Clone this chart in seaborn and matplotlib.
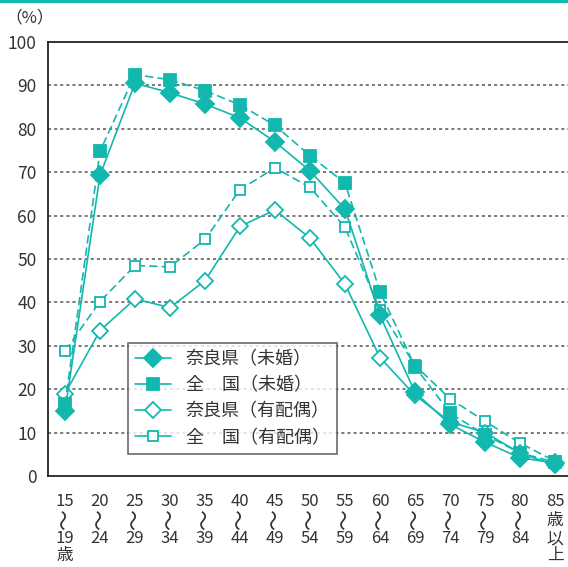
import matplotlib
matplotlib.use("Agg")
import matplotlib.pyplot as plt
from matplotlib.lines import Line2D
import matplotlib.transforms as mtransforms
import seaborn as sns
import pandas as pd

# age groups (x categories); middle line holds the wave mark drawn separately
age_top = ["15", "20", "25", "30", "35", "40", "45", "50", "55", "60", "65", "70", "75", "80", "85"]
age_bottom = ["19\n歳", "24", "29", "34", "39", "44", "49", "54", "59", "64", "69", "74", "79", "84", "以\n上"]
age_mid = ["〜"] * 14 + ["歳"]

# employment rate (%)
nara_unmarried = [15.0, 69.3, 90.5, 88.3, 85.7, 82.5, 77.0, 70.3, 61.5, 37.0, 19.3, 11.9, 7.8, 4.2, 3.0]
japan_unmarried = [16.5, 74.8, 92.5, 91.3, 88.8, 85.5, 80.8, 73.8, 67.5, 42.5, 25.2, 14.5, 9.5, 5.3, 3.2]
nara_married = [19.0, 33.5, 40.8, 38.8, 45.0, 57.5, 61.3, 54.8, 44.2, 27.3, 18.6, 12.5, 10.0, 5.3, 2.5]
japan_married = [28.8, 40.2, 48.5, 48.2, 54.5, 66.0, 71.0, 66.5, 57.3, 38.3, 25.5, 17.8, 12.6, 7.6, 3.4]

series_names = ["奈良県（未婚）", "全　国（未婚）", "奈良県（有配偶）", "全　国（有配偶）"]

teal = "#12B8AE"
text_col = "#333333"

sns.set_theme(style="white")
plt.rcParams['font.family'] = ['Noto Sans CJK JP', 'DejaVu Sans']

df = pd.DataFrame({
    "pos": range(len(age_top)),
    series_names[0]: nara_unmarried,
    series_names[1]: japan_unmarried,
    series_names[2]: nara_married,
    series_names[3]: japan_married,
})

fig = plt.figure(figsize=(5.68, 5.67), dpi=100)
ax = fig.add_axes([47.5 / 568, 91 / 567, 525 / 568, 434 / 567])

styles = [
    dict(marker="D", linestyle="-", markerfacecolor=teal, markersize=9),
    dict(marker="s", linestyle=(0, (5, 2.5)), markerfacecolor=teal, markersize=8),
    dict(marker="D", linestyle="-", markerfacecolor="white", markersize=8.5),
    dict(marker="s", linestyle=(0, (5, 2.5)), markerfacecolor="white", markersize=7.5),
]

# draw married first so unmarried sits on top
for i in [3, 2, 1, 0]:
    st = styles[i]
    sns.lineplot(data=df, x="pos", y=series_names[i], ax=ax, color=teal, linewidth=1.2,
                 marker=st["marker"], linestyle=st["linestyle"],
                 markerfacecolor=st["markerfacecolor"], markeredgecolor=teal,
                 markeredgewidth=1.3, markersize=st["markersize"], zorder=3 + (3 - i))

ax.set_xlim(-0.5, 14.5)
ax.set_ylim(0, 100)
ax.set_xlabel("")
ax.set_ylabel("")

ax.set_yticks(range(0, 101, 10))
ax.set_yticklabels([str(v) for v in range(0, 101, 10)], fontsize=12.5, color=text_col)
ax.tick_params(axis="y", length=0, pad=8)

# x labels: top number, then the wave / 歳, then the rest
ax.set_xticks(range(len(age_top)))
ax.set_xticklabels(age_top, fontsize=12, color=text_col, va="top")
ax.set_xticks([k + 0.5 for k in range(len(age_top) - 1)], minor=True)
ax.tick_params(axis="x", which="major", length=0, pad=12)
ax.tick_params(axis="x", which="minor", length=5, direction="inout", width=1, color="#222222")

trans = mtransforms.blended_transform_factory(ax.transData, ax.transAxes)
for k in range(len(age_top)):
    if age_mid[k] == "〜":
        ax.text(k, (476 - 520) / 434, age_mid[k], transform=trans, rotation=90,
                fontsize=15, color=text_col, ha="center", va="center")
    else:
        ax.text(k, (476 - 520) / 434, age_mid[k], transform=trans,
                fontsize=12, color=text_col, ha="center", va="center")
    ax.text(k, (476 - 530) / 434, age_bottom[k], transform=trans, fontsize=12,
            color=text_col, ha="center", va="top", linespacing=1.0)

for y in range(10, 100, 10):
    ax.axhline(y, color="#555555", linewidth=1.1, linestyle=(0, (2, 2)), zorder=1)

for side in ["left", "bottom", "top", "right"]:
    ax.spines[side].set_color("#222222")
    ax.spines[side].set_linewidth(1.3)

handles = [Line2D([], [], color=teal, linewidth=1.2, linestyle="-", marker=st["marker"],
                  markerfacecolor=st["markerfacecolor"], markeredgecolor=teal,
                  markeredgewidth=1.3, markersize=st["markersize"])
           for st in styles]
leg = ax.legend(handles, series_names, loc="upper left", bbox_to_anchor=(0.153, 0.306),
                borderaxespad=0, frameon=True, fancybox=False, edgecolor="#444444",
                fontsize=13, handlelength=2.0, handletextpad=0.8, labelspacing=0.45,
                borderpad=0.4)
leg.get_frame().set_linewidth(1.2)
for t in leg.get_texts():
    t.set_color(text_col)

fig.text(5 / 568, 1 - 18 / 567, "（%）", fontsize=12, color=text_col, ha="left", va="center")

# teal header line
fig.add_artist(Line2D([0, 1], [1 - 1 / 567, 1 - 1 / 567], color=teal, linewidth=3,
                      transform=fig.transFigure))

fig.savefig("out.png", dpi=100)
